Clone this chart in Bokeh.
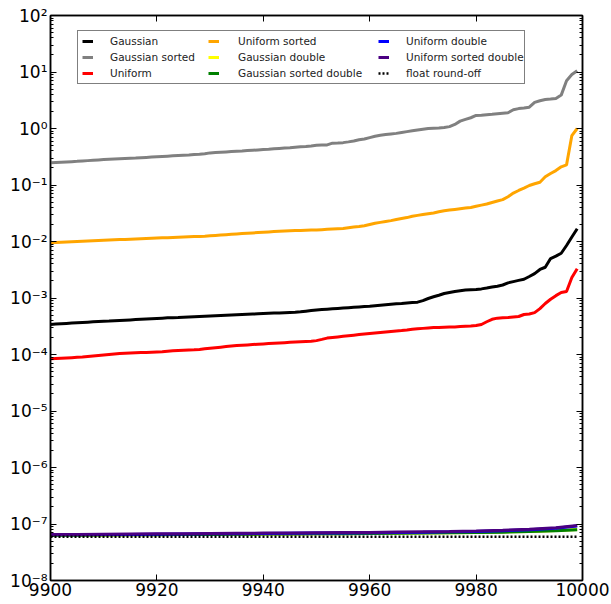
from bokeh.plotting import figure
from bokeh.models import (Legend, LegendItem, LogAxis, LinearAxis, FixedTicker,
                          CustomJSTickFormatter, Range1d)
from bokeh.embed import file_html
from bokeh.resources import INLINE

# ---------------- data ----------------
x = list(range(9900, 10000))

gaussian = [
    3.40e-4, 3.45e-4, 3.50e-4, 3.55e-4, 3.60e-4, 3.65e-4, 3.70e-4, 3.74e-4, 3.78e-4, 3.82e-4,
    3.86e-4, 3.90e-4, 3.95e-4, 4.00e-4, 4.05e-4, 4.10e-4, 4.15e-4, 4.20e-4, 4.25e-4, 4.30e-4,
    4.35e-4, 4.40e-4, 4.45e-4, 4.48e-4, 4.50e-4, 4.55e-4, 4.60e-4, 4.65e-4, 4.70e-4, 4.75e-4,
    4.80e-4, 4.85e-4, 4.90e-4, 4.95e-4, 5.00e-4, 5.05e-4, 5.10e-4, 5.15e-4, 5.20e-4, 5.25e-4,
    5.30e-4, 5.35e-4, 5.40e-4, 5.45e-4, 5.50e-4, 5.55e-4, 5.60e-4, 5.70e-4, 5.85e-4, 6.00e-4,
    6.15e-4, 6.25e-4, 6.35e-4, 6.45e-4, 6.55e-4, 6.65e-4, 6.75e-4, 6.85e-4, 6.95e-4, 7.05e-4,
    7.15e-4, 7.30e-4, 7.45e-4, 7.60e-4, 7.75e-4, 7.90e-4, 8.00e-4, 8.15e-4, 8.30e-4, 8.45e-4,
    9.00e-4, 9.80e-4, 1.05e-3, 1.12e-3, 1.20e-3, 1.25e-3, 1.30e-3, 1.34e-3, 1.38e-3, 1.40e-3,
    1.42e-3, 1.45e-3, 1.50e-3, 1.56e-3, 1.62e-3, 1.70e-3, 1.85e-3, 1.95e-3, 2.05e-3, 2.15e-3,
    2.40e-3, 2.70e-3, 3.20e-3, 3.50e-3, 5.00e-3, 5.50e-3, 6.20e-3, 8.50e-3, 1.20e-2, 1.68e-2,
]

gaussian_sorted = [
    0.247, 0.250, 0.253, 0.256, 0.259, 0.262, 0.266, 0.270, 0.274, 0.278,
    0.282, 0.285, 0.288, 0.291, 0.294, 0.297, 0.300, 0.304, 0.308, 0.312,
    0.316, 0.320, 0.324, 0.328, 0.332, 0.336, 0.340, 0.345, 0.350, 0.356,
    0.370, 0.375, 0.380, 0.385, 0.390, 0.395, 0.400, 0.406, 0.412, 0.418,
    0.424, 0.430, 0.437, 0.444, 0.451, 0.458, 0.466, 0.474, 0.482, 0.492,
    0.505, 0.510, 0.512, 0.550, 0.555, 0.562, 0.580, 0.600, 0.630, 0.650,
    0.690, 0.730, 0.760, 0.780, 0.800, 0.820, 0.850, 0.880, 0.910, 0.940,
    0.970, 1.000, 1.010, 1.020, 1.040, 1.080, 1.180, 1.350, 1.450, 1.550,
    1.700, 1.720, 1.750, 1.780, 1.820, 1.860, 1.900, 2.150, 2.250, 2.300,
    2.380, 2.900, 3.100, 3.250, 3.320, 3.400, 3.900, 7.000, 9.000, 10.50,
]

uniform = [
    8.4e-5, 8.5e-5, 8.6e-5, 8.7e-5, 8.8e-5, 8.9e-5, 9.0e-5, 9.2e-5, 9.4e-5, 9.6e-5,
    9.8e-5, 1.00e-4, 1.02e-4, 1.04e-4, 1.05e-4, 1.06e-4, 1.07e-4, 1.08e-4, 1.09e-4, 1.10e-4,
    1.11e-4, 1.12e-4, 1.14e-4, 1.16e-4, 1.18e-4, 1.19e-4, 1.20e-4, 1.21e-4, 1.23e-4, 1.26e-4,
    1.29e-4, 1.32e-4, 1.35e-4, 1.38e-4, 1.41e-4, 1.44e-4, 1.46e-4, 1.48e-4, 1.50e-4, 1.52e-4,
    1.54e-4, 1.56e-4, 1.58e-4, 1.60e-4, 1.62e-4, 1.64e-4, 1.66e-4, 1.68e-4, 1.70e-4, 1.72e-4,
    1.76e-4, 1.85e-4, 1.95e-4, 2.00e-4, 2.05e-4, 2.10e-4, 2.15e-4, 2.20e-4, 2.25e-4, 2.30e-4,
    2.35e-4, 2.40e-4, 2.45e-4, 2.50e-4, 2.55e-4, 2.60e-4, 2.65e-4, 2.72e-4, 2.80e-4, 2.85e-4,
    2.90e-4, 2.95e-4, 3.00e-4, 3.02e-4, 3.04e-4, 3.06e-4, 3.08e-4, 3.12e-4, 3.16e-4, 3.20e-4,
    3.25e-4, 3.40e-4, 3.80e-4, 4.20e-4, 4.40e-4, 4.45e-4, 4.50e-4, 4.60e-4, 4.70e-4, 5.10e-4,
    5.20e-4, 5.50e-4, 6.50e-4, 8.00e-4, 9.50e-4, 1.10e-3, 1.25e-3, 1.30e-3, 2.30e-3, 3.30e-3,
]

uniform_sorted = [
    0.0095, 0.0096, 0.0097, 0.0098, 0.0099, 0.0100, 0.0101, 0.0102, 0.0103, 0.0104,
    0.0105, 0.0106, 0.0107, 0.0108, 0.0109, 0.0110, 0.0111, 0.0112, 0.0113, 0.0114,
    0.0115, 0.0116, 0.0117, 0.0118, 0.0119, 0.0120, 0.0121, 0.0122, 0.0123, 0.0124,
    0.0126, 0.0128, 0.0130, 0.0132, 0.0134, 0.0136, 0.0138, 0.0140, 0.0142, 0.0144,
    0.0146, 0.0148, 0.0150, 0.0152, 0.0154, 0.0155, 0.0156, 0.0157, 0.0158, 0.0159,
    0.0160, 0.0162, 0.0164, 0.0166, 0.0168, 0.0170, 0.0175, 0.0180, 0.0184, 0.0190,
    0.0200, 0.0210, 0.0218, 0.0226, 0.0234, 0.0245, 0.0255, 0.0265, 0.0280, 0.0290,
    0.0300, 0.0310, 0.0320, 0.0335, 0.0350, 0.0360, 0.0370, 0.0380, 0.0390, 0.0400,
    0.0420, 0.0440, 0.0460, 0.0490, 0.0520, 0.0550, 0.0620, 0.0720, 0.0800, 0.0880,
    0.0980, 0.1050, 0.1120, 0.1400, 0.1600, 0.1800, 0.2100, 0.2270, 0.7500, 1.0000,
]

x_double = [9900, 9905, 9910, 9915, 9920, 9925, 9930, 9935, 9940, 9945, 9950,
            9955, 9960, 9965, 9970, 9975, 9980, 9985, 9990, 9995, 9999]
gaussian_double = [6.30e-8, 6.34e-8, 6.38e-8, 6.42e-8, 6.46e-8, 6.50e-8, 6.54e-8, 6.58e-8,
                   6.62e-8, 6.66e-8, 6.70e-8, 6.75e-8, 6.80e-8, 6.86e-8, 6.93e-8, 7.00e-8,
                   7.10e-8, 7.22e-8, 7.40e-8, 7.65e-8, 8.00e-8]
gaussian_sorted_double = [6.30e-8, 6.34e-8, 6.38e-8, 6.42e-8, 6.46e-8, 6.50e-8, 6.54e-8, 6.58e-8,
                          6.62e-8, 6.66e-8, 6.70e-8, 6.74e-8, 6.79e-8, 6.84e-8, 6.90e-8, 6.97e-8,
                          7.06e-8, 7.18e-8, 7.35e-8, 7.60e-8, 7.90e-8]
uniform_double = [6.42e-8, 6.46e-8, 6.50e-8, 6.55e-8, 6.60e-8, 6.65e-8, 6.70e-8, 6.75e-8,
                  6.80e-8, 6.85e-8, 6.90e-8, 6.95e-8, 7.00e-8, 7.08e-8, 7.16e-8, 7.26e-8,
                  7.40e-8, 7.60e-8, 7.95e-8, 8.45e-8, 9.20e-8]
uniform_sorted_double = [6.50e-8, 6.55e-8, 6.60e-8, 6.65e-8, 6.70e-8, 6.75e-8, 6.80e-8, 6.85e-8,
                         6.90e-8, 6.95e-8, 7.00e-8, 7.05e-8, 7.10e-8, 7.20e-8, 7.30e-8, 7.40e-8,
                         7.55e-8, 7.75e-8, 8.10e-8, 8.60e-8, 9.40e-8]
x_roundoff = [9900, 9999]
float_roundoff = [5.96e-8, 5.96e-8]

y_ticks = [1e-8, 1e-7, 1e-6, 1e-5, 1e-4, 1e-3, 1e-2, 1e-1, 1e0, 1e1, 1e2]
x_ticks = [9900, 9920, 9940, 9960, 9980, 10000]

# ---------------- figure ----------------
FONT = "DejaVu Sans"

p = figure(width=611, height=604, y_axis_type="log",
           x_range=Range1d(9900, 10000), y_range=Range1d(1e-8, 1e2),
           output_backend="svg", toolbar_location=None,
           min_border_left=50, min_border_right=29, min_border_top=15, min_border_bottom=24)

p.grid.visible = False
p.outline_line_color = "black"
p.outline_line_width = 1.5
p.background_fill_color = "white"
p.border_fill_color = "white"

sup = CustomJSTickFormatter(code="""
const m = {'-':'\u207b','0':'\u2070','1':'\u00b9','2':'\u00b2','3':'\u00b3','4':'\u2074',
           '5':'\u2075','6':'\u2076','7':'\u2077','8':'\u2078','9':'\u2079'};
const e = Math.round(Math.log10(tick));
return '10' + String(e).split('').map(c => m[c]).join('');
""")

minor_y = [m * 10.0 ** k for k in range(-8, 2) for m in range(2, 10)]

yax = p.yaxis[0]
yax.ticker = FixedTicker(ticks=y_ticks, minor_ticks=minor_y)
yax.formatter = sup
xax = p.xaxis[0]
xax.ticker = FixedTicker(ticks=x_ticks)

for ax in (xax, yax):
    ax.axis_line_color = "black"
    ax.axis_line_width = 1.5
    ax.major_tick_in = 6
    ax.major_tick_out = 0
    ax.major_tick_line_width = 1
    ax.major_label_text_font = FONT
    ax.major_label_text_font_size = "17px"
    ax.major_label_text_color = "black"
yax.minor_tick_in = 3
yax.minor_tick_out = 0
xax.minor_tick_in = 0
xax.minor_tick_out = 0
yax.major_label_standoff = 3
xax.major_label_standoff = 2

# mirrored ticks on right and top
empty = CustomJSTickFormatter(code="return ''")
rax = LogAxis(ticker=FixedTicker(ticks=y_ticks, minor_ticks=minor_y),
              formatter=empty, major_tick_in=6, major_tick_out=0, minor_tick_in=3, minor_tick_out=0,
              axis_line_color="black", axis_line_width=1.5, major_label_standoff=0,
              major_label_text_font_size="1px")
p.add_layout(rax, "right")
tax = LinearAxis(ticker=FixedTicker(ticks=x_ticks), formatter=empty, major_tick_in=6,
                 major_tick_out=0, minor_tick_in=0, minor_tick_out=0,
                 axis_line_color="black", axis_line_width=1.5, major_label_standoff=0,
                 major_label_text_font_size="1px")
p.add_layout(tax, "above")

LW = 3
r1 = p.line(x, gaussian, line_color="black", line_width=LW)
r2 = p.line(x, gaussian_sorted, line_color="#808080", line_width=LW)
r3 = p.line(x, uniform, line_color="red", line_width=LW)
r4 = p.line(x, uniform_sorted, line_color="orange", line_width=LW)
r5 = p.line(x_double, gaussian_double, line_color="yellow", line_width=LW)
r6 = p.line(x_double, gaussian_sorted_double, line_color="green", line_width=LW)
r7 = p.line(x_double, uniform_double, line_color="blue", line_width=LW)
r8 = p.line(x_double, uniform_sorted_double, line_color="indigo", line_width=LW)
r9 = p.line(x_roundoff, float_roundoff, line_color="black", line_width=2.5, line_dash="2 2")

columns = [
    [("Gaussian", r1), ("Gaussian sorted", r2), ("Uniform", r3)],
    [("Uniform sorted", r4), ("Gaussian double", r5), ("Gaussian sorted double", r6)],
    [("Uniform double", r7), ("Uniform sorted double", r8), ("float round-off", r9)],
]
col_x = [27, 158, 328]
col_y = [496, 501, 501]
col_standoff = [17, 19, 17]

for i, (cx, cy, so, col) in enumerate(zip(col_x, col_y, col_standoff, columns)):
    kw = dict(label_text_font=FONT, label_text_font_size="10.5px", label_text_color="#222222",
              glyph_width=11, glyph_height=12, label_height=12, label_standoff=so,
              spacing=4, padding=4)
    if i == 0:
        kw.update(border_line_color="black", border_line_width=1.5,
                  background_fill_color="white", background_fill_alpha=1.0,
                  label_width=410)
    else:
        kw.update(border_line_color=None, background_fill_alpha=0.0)
    leg = Legend(items=[LegendItem(label=lab, renderers=[r]) for lab, r in col],
                 location=(cx, cy), orientation="vertical", **kw)
    p.add_layout(leg)

open("out.html", "w").write(file_html(p, INLINE))
